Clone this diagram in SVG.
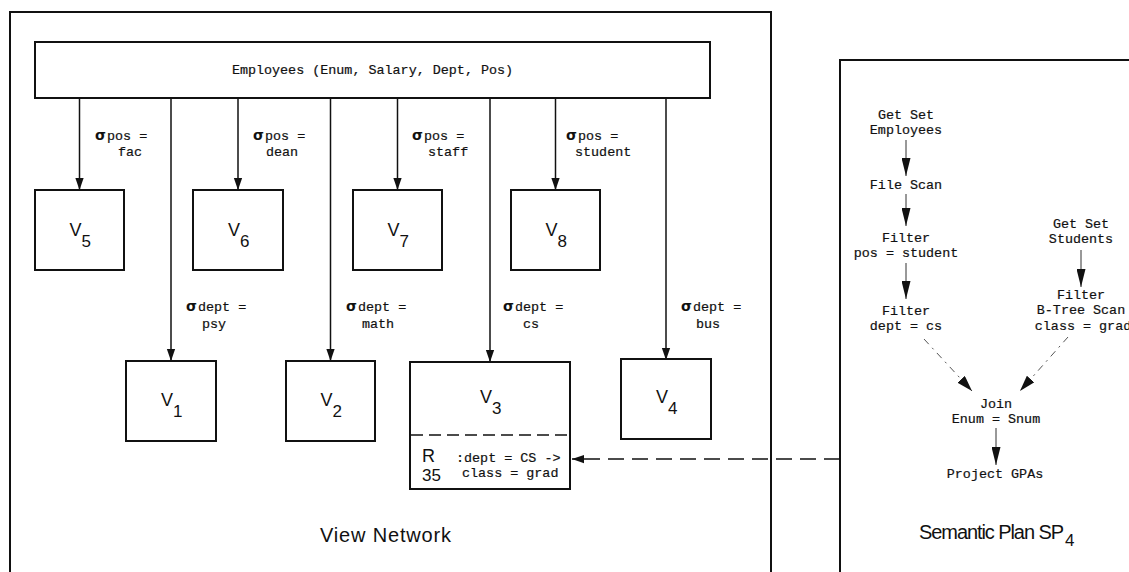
<svg xmlns="http://www.w3.org/2000/svg" width="1129" height="572" viewBox="0 0 1129 572">
<style>
.frame{fill:none;stroke:#111;stroke-width:2}
.box{fill:#fff;stroke:#111;stroke-width:2}
.ln{fill:none;stroke:#111;stroke-width:1.5}
.thin{fill:none;stroke:#333;stroke-width:1}
.dsh{fill:none;stroke:#111;stroke-width:1.5;stroke-dasharray:16 8}
.ddiv{fill:none;stroke:#111;stroke-width:1.3;stroke-dasharray:12 6}
.dot{fill:none;stroke:#555;stroke-width:1;stroke-dasharray:7 5 2 5}
.m{font-family:"Liberation Mono","Courier New",monospace;font-size:13.4px;fill:#111;stroke:#111;stroke-width:0.2}
.mc{font-family:"Liberation Mono","Courier New",monospace;font-size:13.4px;fill:#111;stroke:#111;stroke-width:0.2;text-anchor:middle}
.sg{font-family:"DejaVu Sans","Liberation Sans",sans-serif;font-size:14px;font-weight:bold;fill:#111}
.v{font-family:"Liberation Sans",Arial,sans-serif;font-size:18px;fill:#111}
.vs{font-family:"Liberation Sans",Arial,sans-serif;font-size:17px;fill:#111}
.cap{font-family:"Liberation Sans",Arial,sans-serif;font-size:20px;fill:#111}
</style>
<defs>
<marker id="ah" markerUnits="userSpaceOnUse" markerWidth="12" markerHeight="17" refX="16" refY="5.5" orient="auto" viewBox="0 0 16 11">
<path d="M0,0 L16,5.5 L0,11 Z" fill="#111"/>
</marker>
<marker id="ahs" markerUnits="userSpaceOnUse" markerWidth="18" markerHeight="9" refX="18" refY="4.5" orient="auto" viewBox="0 0 18 9">
<path d="M0,0 L18,4.5 L0,9 Z" fill="#111"/>
</marker>
<marker id="ahd" markerUnits="userSpaceOnUse" markerWidth="16" markerHeight="10" refX="16" refY="5" orient="auto" viewBox="0 0 16 10">
<path d="M0,0 L16,5 L0,10 Z" fill="#111"/>
</marker>
</defs>

<g id="frames">
<path class="frame" d="M10,580 V12 H771 V580"/>
<path class="frame" d="M840,580 V60 H1140"/>
</g>

<g id="connectors">
<line class="ln" x1="79.5" y1="98" x2="79.5" y2="190" marker-end="url(#ah)"/>
<line class="ln" x1="171" y1="98" x2="171" y2="361" marker-end="url(#ah)"/>
<line class="ln" x1="238" y1="98" x2="238" y2="190" marker-end="url(#ah)"/>
<line class="ln" x1="330.5" y1="98" x2="330.5" y2="361" marker-end="url(#ah)"/>
<line class="ln" x1="397.5" y1="98" x2="397.5" y2="190" marker-end="url(#ah)"/>
<line class="ln" x1="490" y1="98" x2="490" y2="362" marker-end="url(#ah)"/>
<line class="ln" x1="555.5" y1="98" x2="555.5" y2="190" marker-end="url(#ah)"/>
<line class="ln" x1="666" y1="98" x2="666" y2="360" marker-end="url(#ah)"/>
<line class="dsh" x1="840" y1="459" x2="572" y2="459" marker-end="url(#ah)"/>
<line class="thin" x1="906" y1="140" x2="906" y2="176" marker-end="url(#ahs)"/>
<line class="thin" x1="906" y1="194" x2="906" y2="226" marker-end="url(#ahs)"/>
<line class="thin" x1="906" y1="263" x2="906" y2="299" marker-end="url(#ahs)"/>
<line class="thin" x1="1081" y1="250" x2="1081" y2="287" marker-end="url(#ahs)"/>
<line class="dot" x1="924" y1="339" x2="972" y2="391" marker-end="url(#ahd)"/>
<line class="dot" x1="1068" y1="337" x2="1020" y2="391" marker-end="url(#ahd)"/>
<line class="thin" x1="996" y1="428" x2="996" y2="465" marker-end="url(#ahs)"/>
</g>

<g id="employees">
<rect class="box" x="35" y="42" width="675" height="56"/>
<text class="mc" x="372.5" y="74">Employees (Enum, Salary, Dept, Pos)</text>
</g>

<g id="labels">
<text class="sg" x="95" y="140">σ</text><text class="m" x="107" y="140">pos =</text><text class="m" x="118" y="156">fac</text>
<text class="sg" x="253" y="140">σ</text><text class="m" x="265" y="140">pos =</text><text class="m" x="266" y="156">dean</text>
<text class="sg" x="412" y="140">σ</text><text class="m" x="424" y="140">pos =</text><text class="m" x="428" y="156">staff</text>
<text class="sg" x="566" y="140">σ</text><text class="m" x="578" y="140">pos =</text><text class="m" x="575" y="156">student</text>
<text class="sg" x="186" y="311">σ</text><text class="m" x="198" y="311">dept =</text><text class="m" x="202" y="328">psy</text>
<text class="sg" x="346" y="311">σ</text><text class="m" x="358" y="311">dept =</text><text class="m" x="362" y="328">math</text>
<text class="sg" x="503" y="311">σ</text><text class="m" x="515" y="311">dept =</text><text class="m" x="523" y="328">cs</text>
<text class="sg" x="681" y="311">σ</text><text class="m" x="693" y="311">dept =</text><text class="m" x="696" y="328">bus</text>
</g>

<g id="v5"><rect class="box" x="35" y="190" width="89" height="80"/><text class="v" x="69.5" y="236">V</text><text class="vs" x="81.5" y="247">5</text></g>
<g id="v6"><rect class="box" x="193" y="190" width="90" height="80"/><text class="v" x="228" y="236">V</text><text class="vs" x="240" y="247">6</text></g>
<g id="v7"><rect class="box" x="353" y="190" width="89" height="80"/><text class="v" x="387.5" y="236">V</text><text class="vs" x="399.5" y="247">7</text></g>
<g id="v8"><rect class="box" x="511" y="190" width="89" height="80"/><text class="v" x="545.5" y="236">V</text><text class="vs" x="557.5" y="247">8</text></g>

<g id="v1"><rect class="box" x="126" y="361" width="90" height="80"/><text class="v" x="161" y="406">V</text><text class="vs" x="173" y="417">1</text></g>
<g id="v2"><rect class="box" x="286" y="361" width="89" height="80"/><text class="v" x="320.5" y="406">V</text><text class="vs" x="332.5" y="417">2</text></g>
<g id="v3">
<rect class="box" x="410" y="362" width="160" height="127"/>
<line class="ddiv" x1="411" y1="435" x2="569" y2="435"/>
<text class="v" x="480" y="403">V</text><text class="vs" x="492" y="414">3</text>
<text class="v" x="422" y="462" font-size="16px">R</text><text class="vs" x="422" y="481">35</text>
<text class="m" x="456" y="462" font-size="13px">:dept = CS -&gt;</text>
<text class="m" x="462" y="477" font-size="13px">class = grad</text>
</g>
<g id="v4"><rect class="box" x="621" y="359" width="90" height="80"/><text class="v" x="656" y="403">V</text><text class="vs" x="668" y="414">4</text></g>

<g id="sp-getset-emp"><text class="mc" x="906" y="119">Get Set</text><text class="mc" x="906" y="134">Employees</text></g>
<g id="sp-filescan"><text class="mc" x="906" y="189">File Scan</text></g>
<g id="sp-filter-pos"><text class="mc" x="906" y="242">Filter</text><text class="mc" x="906" y="257">pos = student</text></g>
<g id="sp-filter-dept"><text class="mc" x="906" y="315">Filter</text><text class="mc" x="906" y="330">dept = cs</text></g>
<g id="sp-getset-stu"><text class="mc" x="1081" y="228">Get Set</text><text class="mc" x="1081" y="243">Students</text></g>
<g id="sp-filter-class"><text class="mc" x="1081" y="299">Filter</text><text class="mc" x="1081" y="314">B-Tree Scan</text><text class="mc" x="1083" y="330">class = grad</text></g>
<g id="sp-join"><text class="mc" x="996" y="408">Join</text><text class="mc" x="996" y="423">Enum = Snum</text></g>
<g id="sp-project"><text class="mc" x="995" y="478">Project GPAs</text></g>

<g id="captions">
<text class="cap" x="320" y="542" textLength="131">View  Network</text>
<text class="cap" x="919" y="539" textLength="145">Semantic Plan SP</text><text class="vs" x="1065" y="546">4</text>
</g>
</svg>
